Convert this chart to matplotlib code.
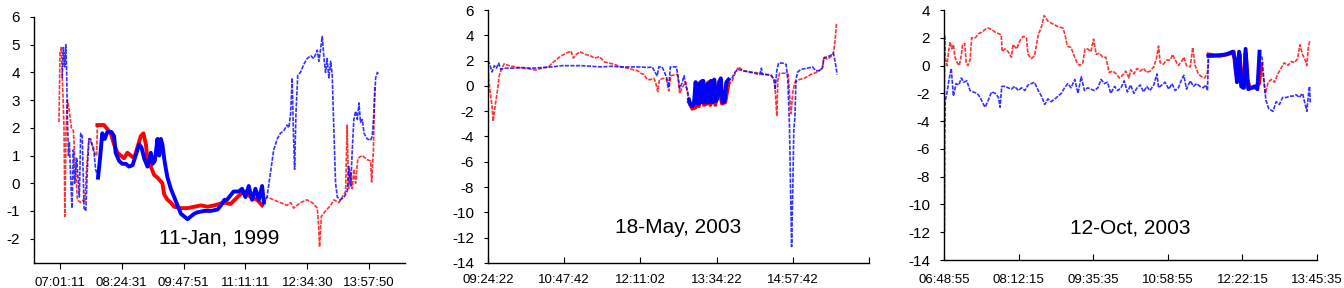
import numpy as np
import matplotlib
matplotlib.use('Agg')
import matplotlib.pyplot as plt

plt.rcParams['font.family'] = ['Liberation Sans', 'DejaVu Sans']

# (hour of day, value)
jan_red = [(6.998, 2.2), (7.02, 4.7), (7.05, 4.9), (7.08, 3.5), (7.11, 2.0), (7.13, -1.2), (7.155, 1.8),
           (7.185, 3.0), (7.23, 2.6), (7.275, 2.0), (7.32, 1.9), (7.35, 1.0), (7.38, 0.3), (7.41, -0.6),
           (7.485, -0.7), (7.545, -0.6), (7.575, -0.7), (7.62, 0.6), (7.67, 1.6), (7.75, 1.4), (7.82, 1.0),
           (7.845, 1.0), (7.86, 2.1), (8.01, 2.1), (8.085, 1.95), (8.16, 1.8), (8.235, 1.4), (8.31, 1.1),
           (8.385, 1.0), (8.46, 0.9), (8.535, 1.1), (8.61, 1.0), (8.685, 0.9), (8.76, 1.3), (8.835, 1.7),
           (8.895, 1.8), (8.95, 1.4), (8.985, 0.8), (9.06, 0.6), (9.135, 0.3), (9.21, 0.2), (9.32, 0.0),
           (9.36, -0.4), (9.435, -0.6), (9.51, -0.7), (9.585, -0.85), (9.735, -0.9), (9.885, -0.9),
           (10.035, -0.85), (10.185, -0.8), (10.335, -0.85), (10.485, -0.8), (10.71, -0.7), (10.85, -0.75),
           (11.07, -0.4), (11.185, -0.3), (11.30, -0.5), (11.45, -0.6), (11.56, -0.8), (11.67, -0.5),
           (11.82, -0.6), (11.97, -0.7), (12.12, -0.8), (12.20, -0.7), (12.27, -0.9), (12.42, -0.7),
           (12.57, -0.6), (12.685, -0.7), (12.80, -0.9), (12.83, -1.6), (12.85, -2.3), (12.89, -1.2),
           (12.985, -1.0), (13.10, -0.8), (13.17, -0.6), (13.285, -0.7), (13.36, -0.5), (13.435, -0.3),
           (13.47, 2.1), (13.50, -0.2), (13.545, 0.4), (13.585, -0.2), (13.62, 0.5), (13.66, 0.0),
           (13.71, 0.9), (13.81, 1.0), (13.92, 0.85), (13.997, 0.8), (14.02, 0.05), (14.06, 1.2), (14.09, 3.5)]
jan_blue = [(7.07, 3.8), (7.095, 4.9), (7.125, 4.2), (7.15, 5.0), (7.17, 4.0), (7.185, 2.5), (7.21, 1.0),
            (7.23, 1.5), (7.26, 0.2), (7.29, -0.9), (7.32, 1.2), (7.35, 0.0), (7.395, 0.9), (7.425, 0.2),
            (7.455, -0.5), (7.485, 1.8), (7.52, 1.7), (7.56, -0.9), (7.60, -1.0), (7.635, 0.5), (7.67, 1.6),
            (7.71, 1.6), (7.75, 1.3), (7.785, 1.1), (7.82, 0.5), (7.875, 0.2), (7.92, 0.9), (7.97, 1.8),
            (8.025, 1.6), (8.085, 1.85), (8.175, 1.85), (8.235, 1.7), (8.27, 1.1), (8.35, 0.8), (8.42, 0.7),
            (8.50, 0.7), (8.57, 0.6), (8.65, 0.65), (8.72, 1.0), (8.80, 1.4), (8.85, 1.3), (8.91, 0.9),
            (8.985, 0.6), (9.06, 1.1), (9.10, 0.7), (9.15, 0.8), (9.21, 1.6), (9.25, 1.0), (9.285, 1.6),
            (9.32, 1.4), (9.36, 0.9), (9.40, 0.5), (9.435, 0.2), (9.51, -0.2), (9.585, -0.5), (9.66, -0.8),
            (9.735, -1.1), (9.81, -1.2), (9.885, -1.3), (9.96, -1.2), (10.035, -1.1), (10.11, -1.05),
            (10.26, -1.0), (10.41, -1.0), (10.56, -0.95), (10.635, -0.8), (10.71, -0.6), (10.77, -0.6),
            (10.92, -0.3), (11.035, -0.3), (11.11, -0.2), (11.185, -0.5), (11.26, -0.1), (11.335, -0.6),
            (11.41, -0.2), (11.485, -0.6), (11.56, -0.1), (11.60, -0.7), (11.67, -0.5), (11.75, 0.4),
            (11.82, 1.2), (11.90, 1.6), (11.97, 1.8), (12.05, 1.9), (12.12, 2.1), (12.16, 2.0), (12.20, 2.5),
            (12.235, 3.8), (12.26, 2.0), (12.29, 0.5), (12.32, 2.5), (12.36, 3.9), (12.42, 4.0), (12.50, 4.3),
            (12.57, 4.5), (12.65, 4.6), (12.72, 4.5), (12.80, 4.8), (12.835, 4.4), (12.87, 4.8), (12.91, 5.3),
            (12.95, 4.5), (12.985, 4.0), (13.02, 4.5), (13.06, 3.8), (13.10, 4.4), (13.135, 3.9), (13.17, 2.0),
            (13.21, 0.0), (13.25, -0.5), (13.32, -0.6), (13.40, -0.5), (13.47, -0.3), (13.51, 0.6),
            (13.55, -0.1), (13.585, 1.2), (13.62, 2.3), (13.66, 2.6), (13.70, 2.3), (13.735, 2.9), (13.77, 2.2),
            (13.81, 2.3), (13.85, 1.8), (13.92, 1.6), (13.997, 1.55), (14.035, 1.7), (14.07, 2.5), (14.11, 3.8),
            (14.15, 4.0), (14.18, 3.9)]

may_red = [(9.40, 2.8), (9.42, 0.5), (9.44, -0.3), (9.48, -1.6), (9.50, -2.8), (9.54, -1.5), (9.58, -0.3),
           (9.61, 0.8), (9.64, 1.2), (9.70, 1.75), (9.79, 1.6), (9.91, 1.5), (10.03, 1.4), (10.15, 1.35),
           (10.27, 1.25), (10.39, 1.4), (10.51, 1.5), (10.60, 1.9), (10.66, 2.1), (10.75, 2.4), (10.84, 2.6),
           (10.92, 2.75), (10.96, 2.2), (11.02, 2.5), (11.08, 2.7), (11.17, 2.5), (11.26, 2.4), (11.35, 2.2),
           (11.44, 2.3), (11.53, 1.9), (11.62, 1.8), (11.71, 1.7), (11.83, 1.5), (11.95, 1.4), (12.04, 1.3),
           (12.13, 1.2), (12.19, 1.0), (12.25, 0.9), (12.31, 0.5), (12.37, 0.5), (12.43, 0.6), (12.46, 0.3),
           (12.50, -0.45), (12.53, 0.5), (12.61, 0.6), (12.66, 0.5), (12.70, -0.4), (12.74, 0.8), (12.82, 0.9),
           (12.86, 0.9), (12.90, -0.6), (12.95, -0.1), (13.01, 0.3), (13.07, -1.3), (13.13, -1.8),
           (13.19, -1.7), (13.22, 0.2), (13.25, -1.6), (13.31, 0.4), (13.34, -1.5), (13.40, -1.4), (13.43, 0.3),
           (13.46, -1.5), (13.52, 0.2), (13.55, -1.5), (13.61, 0.3), (13.67, -1.4), (13.73, -1.3), (13.79, 0.2),
           (13.85, 0.3), (13.91, 1.0), (13.97, 1.5), (14.06, 1.2), (14.21, 1.1), (14.36, 1.0), (14.48, 0.9),
           (14.57, 0.8), (14.63, 0.5), (14.65, -1.0), (14.67, -2.4), (14.69, 0.5), (14.72, 1.0), (14.84, 1.0),
           (14.88, 0.9), (14.91, -1.2), (14.93, -2.2), (14.96, -0.5), (15.00, 0.3), (15.08, 0.5), (15.17, 0.6),
           (15.29, 0.9), (15.41, 1.1), (15.50, 1.4), (15.53, 2.3), (15.59, 2.1), (15.65, 2.3), (15.70, 2.5),
           (15.73, 3.5), (15.76, 5.0)]
may_blue = [(9.40, 2.0), (9.43, 1.8), (9.48, 1.1), (9.52, 1.6), (9.56, 1.4), (9.60, 1.8), (9.64, 1.3),
            (9.70, 1.4), (9.85, 1.4), (10.03, 1.45), (10.21, 1.4), (10.39, 1.45), (10.57, 1.5), (10.75, 1.6),
            (10.93, 1.6), (11.11, 1.6), (11.29, 1.55), (11.47, 1.5), (11.65, 1.55), (11.83, 1.5), (12.01, 1.5),
            (12.19, 1.5), (12.31, 1.45), (12.40, 1.5), (12.46, 1.0), (12.49, 0.8), (12.52, 1.5), (12.58, 1.5),
            (12.61, 1.2), (12.66, 0.7), (12.70, -0.1), (12.73, 1.5), (12.79, 1.5), (12.84, 1.5), (12.88, 0.5),
            (12.90, -0.2), (12.94, 0.2), (12.98, 0.8), (13.01, 0.0), (13.04, -0.3), (13.07, -1.1),
            (13.10, -1.5), (13.13, -1.6), (13.16, -1.4), (13.19, 0.3), (13.22, -1.4), (13.25, -1.4),
            (13.28, 0.3), (13.30, -1.3), (13.33, 0.4), (13.35, -1.3), (13.38, -1.3), (13.41, 0.2),
            (13.44, -1.3), (13.47, 0.4), (13.50, -1.3), (13.53, 0.5), (13.56, -1.2), (13.59, -1.0),
            (13.62, 0.3), (13.65, 0.6), (13.68, -1.3), (13.72, -1.2), (13.75, 0.3), (13.79, 0.5), (13.85, 0.6),
            (13.91, 1.1), (13.97, 1.3), (14.06, 1.2), (14.15, 1.1), (14.27, 1.0), (14.36, 0.9), (14.39, 1.4),
            (14.40, 0.9), (14.48, 0.9), (14.57, 0.85), (14.62, 0.4), (14.64, -0.3), (14.67, 1.2), (14.70, 1.8),
            (14.78, 1.8), (14.84, 1.7), (14.87, 0.5), (14.90, -3.0), (14.92, -8.0), (14.94, -12.7),
            (14.96, -8.5), (14.98, -3.5), (15.00, -2.5), (15.02, 0.5), (15.05, 1.1), (15.11, 1.3), (15.23, 1.4),
            (15.32, 1.5), (15.38, 1.2), (15.44, 1.2), (15.50, 1.4), (15.53, 2.2), (15.59, 2.3), (15.65, 2.4),
            (15.70, 2.6), (15.73, 2.0), (15.77, 0.9)]

oct_red = [(6.822, -12.0), (6.826, 2.2), (6.84, 0.5), (6.87, 0.0), (6.90, 1.0), (6.93, 1.7), (6.96, 1.2),
           (6.99, 1.5), (7.02, 0.6), (7.06, 0.2), (7.10, 0.0), (7.14, 0.8), (7.16, 1.5), (7.20, 1.6), (7.23, 0.2),
           (7.26, 0.0), (7.30, 0.4), (7.33, 2.0), (7.40, 2.0), (7.46, 2.3), (7.52, 2.4), (7.58, 2.6), (7.64, 2.7),
           (7.70, 2.6), (7.77, 2.4), (7.83, 2.3), (7.88, 2.2), (7.90, 1.0), (7.95, 1.2), (8.01, 1.0), (8.07, 0.6),
           (8.10, 1.5), (8.17, 1.2), (8.23, 1.8), (8.29, 2.1), (8.35, 2.0), (8.38, 0.8), (8.44, 0.5), (8.50, 0.7),
           (8.57, 2.2), (8.63, 2.8), (8.68, 3.6), (8.75, 3.2), (8.84, 3.0), (8.94, 2.8), (9.03, 2.7), (9.07, 2.2),
           (9.11, 1.4), (9.18, 1.3), (9.28, 0.3), (9.34, 0.0), (9.40, 0.2), (9.44, 1.2), (9.49, 1.2), (9.55, 1.0),
           (9.60, 1.9), (9.65, 0.8), (9.71, 0.9), (9.77, 0.6), (9.83, 0.6), (9.89, -0.5), (9.96, -0.4),
           (10.02, -0.6), (10.08, -0.9), (10.14, -0.7), (10.20, -0.4), (10.26, -0.9), (10.29, -0.3),
           (10.35, -0.6), (10.41, -0.2), (10.47, -0.4), (10.53, -0.2), (10.59, -0.5), (10.65, -0.4),
           (10.72, -0.1), (10.77, 0.5), (10.81, 1.4), (10.84, 0.2), (10.90, 0.1), (10.96, 0.4), (11.03, 0.4),
           (11.07, 0.8), (11.12, 0.4), (11.18, 0.0), (11.24, 0.3), (11.28, 0.6), (11.33, 0.0), (11.40, -0.1),
           (11.445, 1.3), (11.49, 0.0), (11.55, -0.6), (11.61, -0.8), (11.67, -0.9), (11.72, -0.5),
           (11.74, 0.8), (11.83, 0.75), (11.95, 0.7), (12.07, 0.8), (12.17, 0.9), (12.21, 1.0), (12.25, -0.5),
           (12.29, -1.0), (12.32, 0.8), (12.35, -1.4), (12.38, -1.6), (12.43, 0.9), (12.46, -1.0),
           (12.51, -1.6), (12.57, -1.6), (12.63, -1.5), (12.68, -1.3), (12.72, 0.1), (12.77, -1.0),
           (12.80, -2.0), (12.85, -1.2), (12.91, -1.0), (12.97, -1.2), (13.03, -0.6), (13.09, -0.2),
           (13.15, 0.2), (13.22, 0.0), (13.28, 0.3), (13.34, 0.2), (13.40, 0.5), (13.44, 1.5), (13.49, 0.8),
           (13.54, 0.4), (13.57, 0.0), (13.60, 1.4), (13.63, 1.8)]
oct_blue = [(6.822, -12.0), (6.826, -5.0), (6.84, -2.5), (6.87, -2.0), (6.91, -1.0), (6.95, -0.2), (6.99, -2.2),
            (7.04, -1.3), (7.09, -1.4), (7.14, -0.9), (7.18, -1.2), (7.24, -1.1), (7.30, -1.8), (7.36, -1.9),
            (7.43, -2.0), (7.49, -2.3), (7.55, -2.8), (7.58, -3.0), (7.64, -2.5), (7.70, -1.9), (7.77, -2.0),
            (7.83, -2.3), (7.86, -3.0), (7.89, -1.5), (7.95, -1.5), (8.01, -1.6), (8.07, -1.7), (8.13, -1.5),
            (8.20, -1.8), (8.26, -1.6), (8.32, -1.8), (8.38, -1.4), (8.44, -1.3), (8.50, -1.2), (8.57, -1.8),
            (8.63, -2.2), (8.69, -2.8), (8.75, -2.4), (8.81, -2.6), (8.88, -2.4), (8.94, -2.2), (9.00, -2.0),
            (9.06, -1.6), (9.12, -1.3), (9.18, -1.6), (9.25, -1.0), (9.31, -2.0), (9.37, -0.8), (9.43, -1.8),
            (9.49, -1.6), (9.55, -1.7), (9.62, -1.8), (9.68, -1.6), (9.74, -1.0), (9.80, -1.3), (9.86, -1.2),
            (9.92, -2.0), (9.99, -1.5), (10.05, -1.8), (10.11, -1.6), (10.17, -1.1), (10.23, -1.9),
            (10.29, -1.4), (10.35, -2.0), (10.41, -1.6), (10.47, -1.4), (10.53, -1.9), (10.59, -1.5),
            (10.65, -1.8), (10.72, -1.4), (10.78, -0.6), (10.81, -1.6), (10.87, -1.4), (10.93, -1.2),
            (11.00, -1.7), (11.06, -1.3), (11.12, -1.8), (11.18, -1.6), (11.24, -1.0), (11.28, -0.7),
            (11.33, -1.7), (11.40, -1.1), (11.46, -1.5), (11.52, -1.3), (11.58, -1.5), (11.64, -1.6),
            (11.69, -1.4), (11.72, -1.8), (11.74, 0.7), (11.83, 0.7), (11.95, 0.75), (12.07, 0.8), (12.19, 1.0),
            (12.23, 0.5), (12.27, -1.2), (12.31, 1.0), (12.35, -1.5), (12.40, -1.6), (12.43, 1.2), (12.48, -1.7),
            (12.54, -1.6), (12.60, -1.5), (12.65, -1.7), (12.69, 1.0), (12.74, 0.5), (12.78, -1.5),
            (12.81, -2.5), (12.86, -3.1), (12.94, -3.3), (13.00, -2.6), (13.06, -2.8), (13.12, -2.3),
            (13.19, -2.3), (13.25, -2.2), (13.31, -2.2), (13.37, -2.1), (13.43, -2.3), (13.49, -2.0),
            (13.54, -2.8), (13.57, -3.3), (13.60, -2.1), (13.62, -1.5), (13.635, -2.7)]

jan_ticks = ['07:01:11', '08:24:31', '09:47:51', '11:11:11', '12:34:30', '13:57:50']
may_ticks = ['09:24:22', '10:47:42', '12:11:02', '13:34:22', '14:57:42', '']
oct_ticks = ['06:48:55', '08:12:15', '09:35:35', '10:58:55', '12:22:15', '13:45:35']

titles = ['11-Jan, 1999', '18-May, 2003', '12-Oct, 2003']


def hms(s):
    h, m, sec = s.split(':')
    return int(h) * 3600 + int(m) * 60 + int(sec)


def tick_pos(labels):
    pos = []
    for lab in labels:
        pos.append(hms(lab) if lab else pos[-1] + 5000)
    return pos


fig = plt.figure(figsize=(13.44, 2.88), dpi=100)

panels = [
    dict(rect=[34 / 1344, 25 / 288, 371 / 1344, 246 / 288], red=jan_red, blue=jan_blue, ticks=jan_ticks,
         ylim=(-2.88, 6), yticks=np.arange(-2, 7, 1), thick=(7.85, 11.65), title=titles[0], ty=0.10,
         tdir='out', xpad=6),
    dict(rect=[488 / 1344, 25 / 288, 381 / 1344, 253 / 288], red=may_red, blue=may_blue, ticks=may_ticks,
         ylim=(-14, 6), yticks=np.arange(-14, 7, 2), thick=(13.05, 13.8), title=titles[1], ty=0.14,
         tdir='in', xpad=8),
    dict(rect=[944 / 1344, 28 / 288, 373 / 1344, 250 / 288], red=oct_red, blue=oct_blue, ticks=oct_ticks,
         ylim=(-14, 4), yticks=np.arange(-14, 5, 2), thick=(11.73, 12.72), title=titles[2], ty=0.13,
         tdir='in', xpad=10),
]

for i, p in enumerate(panels):
    ax = fig.add_axes(p['rect'])
    for data, col in ((p['red'], '#ff0000'), (p['blue'], '#0000ff')):
        t = np.array([d[0] for d in data]) * 3600
        v = np.array([d[1] for d in data])
        ax.plot(t, v, color=col, lw=1.2, ls=(0, (2.5, 0.8)), alpha=0.8)
        m = (t >= p['thick'][0] * 3600) & (t <= p['thick'][1] * 3600)
        ax.plot(t[m], v[m], color=col, lw=2.8)

    pos = tick_pos(p['ticks'])
    ax.set_xticks(pos)
    ax.set_xticklabels(p['ticks'])
    if i == 0:
        ax.set_xlim(pos[0] - 2100, pos[-1] + 2900)
    else:
        ax.set_xlim(pos[0], pos[-1])
    ax.set_ylim(*p['ylim'])
    ax.set_yticks(p['yticks'])
    ax.set_yticklabels([str(int(y)) for y in p['yticks']])

    for s in ('top', 'right'):
        ax.spines[s].set_visible(False)
    for s in ('left', 'bottom'):
        ax.spines[s].set_linewidth(1.0)
        ax.spines[s].set_color('black')
    ax.tick_params(axis='y', direction='out', length=3, pad=7, labelsize=11)
    ax.tick_params(axis='x', direction=p['tdir'], length=4, pad=p['xpad'], labelsize=9.5)

    ax.text(0.5, p['ty'], p['title'], transform=ax.transAxes, ha='center', va='center', fontsize=15)

fig.savefig('out.png', dpi=100)
